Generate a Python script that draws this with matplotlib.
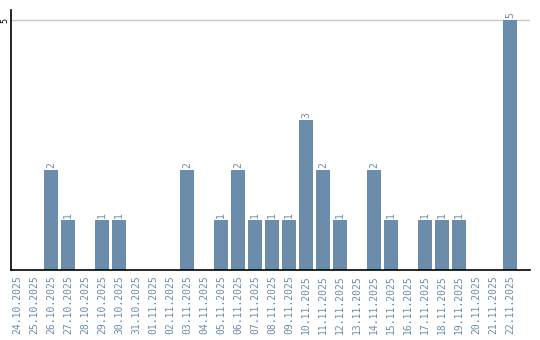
import matplotlib
matplotlib.use('Agg')
import matplotlib.pyplot as plt
import numpy as np

dates = ['24.10.2025', '25.10.2025', '26.10.2025', '27.10.2025', '28.10.2025',
         '29.10.2025', '30.10.2025', '31.10.2025', '01.11.2025', '02.11.2025',
         '03.11.2025', '04.11.2025', '05.11.2025', '06.11.2025', '07.11.2025',
         '08.11.2025', '09.11.2025', '10.11.2025', '11.11.2025', '12.11.2025',
         '13.11.2025', '14.11.2025', '15.11.2025', '16.11.2025', '17.11.2025',
         '18.11.2025', '19.11.2025', '20.11.2025', '21.11.2025', '22.11.2025']
counts = [0, 0, 2, 1, 0, 1, 1, 0, 0, 0,
          2, 0, 1, 2, 1, 1, 1, 3, 2, 1,
          0, 2, 1, 0, 1, 1, 1, 0, 0, 5]

bar_color = '#6b8cab'

fig = plt.figure(figsize=(5.4, 3.4), dpi=100)
ax = fig.add_axes([11 / 540, 70 / 340, 519 / 540, 260 / 340])

x = np.arange(len(dates))
ax.bar(x, counts, width=0.82, color=bar_color, zorder=2)

for xi, v in zip(x, counts):
    if v > 0:
        ax.text(xi, v + 0.04, str(v), rotation=90, ha='center', va='bottom',
                fontsize=7, color=bar_color, family='DejaVu Sans Mono')

ax.set_xlim(-0.353, 30.18)
ax.set_ylim(0, 5.2)

ax.set_yticks([5])
ax.set_yticklabels(['5'], rotation=90, va='center', ha='center', fontsize=6,
                   family='DejaVu Sans Mono')
ax.yaxis.grid(True, color='#c8c8c8', linewidth=1, zorder=0)
ax.tick_params(axis='y', length=0, pad=4.3)

ax.set_xticks(x)
ax.set_xticklabels(dates, rotation=90, fontsize=7, color=bar_color,
                   family='DejaVu Sans Mono')
ax.tick_params(axis='x', length=0, pad=4)

for s in ['top', 'right']:
    ax.spines[s].set_visible(False)
ax.spines['left'].set_linewidth(1.2)
ax.spines['bottom'].set_linewidth(1.2)

fig.savefig('out.png', dpi=100)
